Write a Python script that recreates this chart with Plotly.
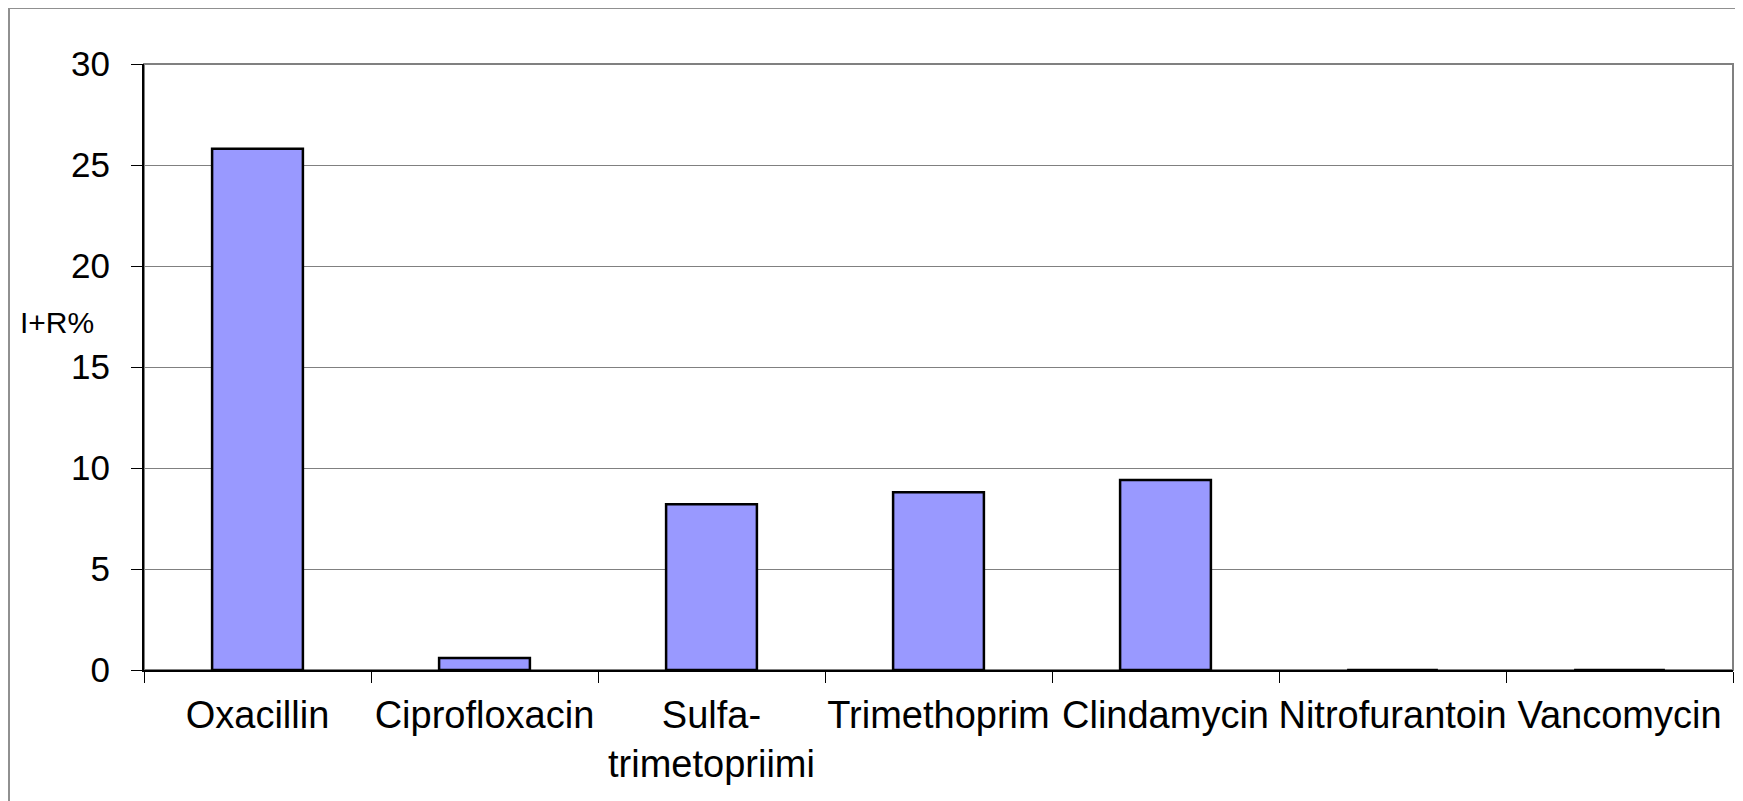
import plotly.graph_objects as go

categories = ["Oxacillin", "Ciprofloxacin", "Sulfa-<br>trimetopriimi", "Trimethoprim",
              "Clindamycin", "Nitrofurantoin", "Vancomycin"]
values = [25.8, 0.6, 8.2, 8.8, 9.4, 0, 0]
y_ticks = [0, 5, 10, 15, 20, 25, 30]

OFF = 8  # default page body margin
W, H = 1743 - OFF, 801 - OFF
L, R, T, B = 144 - OFF, 1733 - OFF, 64 - OFF, 670 - OFF
pw, ph = R - L, B - T

def px_x(x):
    return (x - OFF - L) / pw

def px_y(y):
    return (B - (y - OFF)) / ph

fig = go.Figure(go.Bar(
    x=categories, y=values,
    marker=dict(color="#9999FF", line=dict(color="black", width=2.5)),
))

fig.update_layout(
    width=W, height=H,
    margin=dict(l=L, r=W - R, t=T, b=H - B, autoexpand=False),
    paper_bgcolor="white", plot_bgcolor="white",
    bargap=0.6,
    showlegend=False,
    font=dict(family="Liberation Sans, Arial, sans-serif", color="black"),
    xaxis=dict(
        type="category", automargin=False, showgrid=False, showline=True,
        linecolor="black", linewidth=2, tickangle=0,
        ticks="outside", tickson="boundaries", ticklen=11, tickcolor="black", tickwidth=1,
        tickfont=dict(size=38), ticklabelstandoff=10,
    ),
    yaxis=dict(
        range=[0, 30], tickvals=y_ticks, automargin=False,
        showgrid=True, gridcolor="#808080", gridwidth=1,
        showline=True, linecolor="black", linewidth=2, zeroline=False,
        ticks="outside", ticklen=11, tickcolor="black", tickwidth=1,
        tickfont=dict(size=35), ticklabelstandoff=14,
    ),
    shapes=[
        dict(type="rect", xref="paper", yref="paper", x0=0, x1=1, y0=0, y1=1,
             line=dict(color="#808080", width=2), layer="below"),
        dict(type="rect", xref="paper", yref="paper",
             x0=px_x(9), x1=px_x(1743 + 20), y0=px_y(801 + 20), y1=px_y(8),
             line=dict(color="#909090", width=2), layer="below"),
    ],
    annotations=[
        dict(text="I+R%", xref="paper", yref="paper", x=px_x(18), y=px_y(322),
             xanchor="left", yanchor="middle", showarrow=False, font=dict(size=30)),
    ],
)

fig.write_html("out.html")
